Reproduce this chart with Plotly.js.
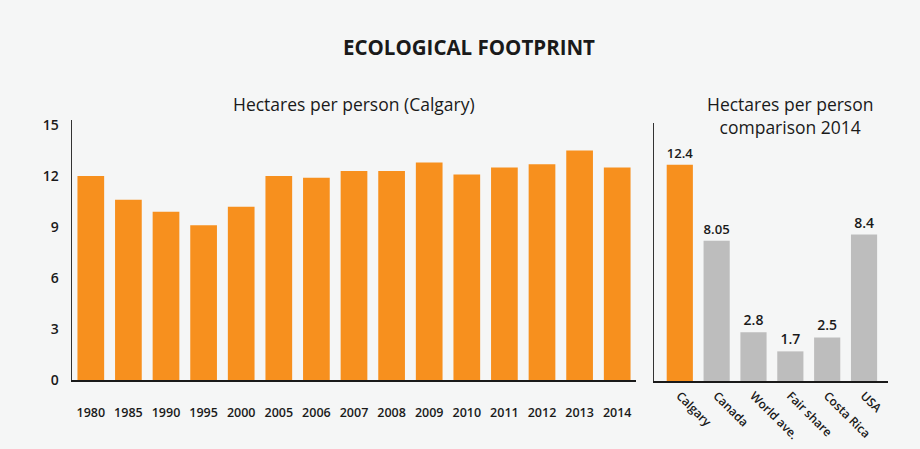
<!DOCTYPE html>
<html>
<head>
<meta charset="utf-8">
<script src="https://cdn.plot.ly/plotly-3.0.1.min.js"></script>
<style>html,body{margin:0;padding:0;background:#f5f6f6;}#chart{width:920px;height:449px;}</style>
</head>
<body>
<div id="chart"></div>
<script>
// Calgary ecological footprint (hectares per person)
const years = ["1980","1985","1990","1995","2000","2005","2006","2007","2008","2009","2010","2011","2012","2013","2014"];
const calgaryValues = [12.0, 10.6, 9.9, 9.1, 10.2, 12.0, 11.9, 12.3, 12.3, 12.8, 12.1, 12.5, 12.7, 13.5, 12.5];

// Comparison 2014
const places = ["Calgary","Canada","World ave.","Fair share","Costa Rica","USA"];
const placeValues = [12.4, 8.05, 2.8, 1.7, 2.5, 8.4];
const placeLabels = ["12.4","8.05","2.8","1.7","2.5","8.4"];
const leftTicks = [0, 3, 6, 9, 12, 15];

const ORANGE = "#f7901e";
const GREY = "#bdbdbd";
const FONT = "'Open Sans', Lato, sans-serif";

const W = 920, H = 449;
const px = v => v / W;
const py = v => (H - v) / H;

const data = [
  {
    type: "bar", x: years, y: calgaryValues, xaxis: "x", yaxis: "y",
    marker: {color: ORANGE}, hoverinfo: "x+y"
  },
  {
    type: "bar", x: places, y: placeValues, xaxis: "x2", yaxis: "y2",
    marker: {color: places.map((p, i) => i === 0 ? ORANGE : GREY)},
    text: placeLabels, textposition: "outside", cliponaxis: false,
    textfont: {family: FONT, size: 14, color: "#1a1a1a", weight: 600}
  }
];

const layout = {
  width: W, height: H,
  margin: {l: 0, r: 0, t: 0, b: 0},
  paper_bgcolor: "#f5f6f6", plot_bgcolor: "#f5f6f6",
  showlegend: false, bargap: 0.29,
  font: {family: FONT, color: "#1a1a1a"},
  xaxis: {
    domain: [px(72), px(636)], anchor: "y",
    type: "category", range: [-0.5, 14.5],
    showline: true, linecolor: "#1a1a1a", linewidth: 2,
    showgrid: false, zeroline: false, ticks: "",
    tickfont: {family: FONT, size: 12.5, color: "#1a1a1a", weight: 600},
    ticklabelstandoff: 20, fixedrange: true
  },
  yaxis: {
    domain: [py(380), py(120)], anchor: "x",
    range: [0, 15.3], tickvals: leftTicks,
    showline: true, linecolor: "#333", linewidth: 1.5,
    showgrid: false, zeroline: false, ticks: "",
    tickfont: {family: FONT, size: 14, color: "#1a1a1a", weight: 600},
    ticklabelstandoff: 9
  },
  xaxis2: {
    domain: [px(654), px(888)], anchor: "y2",
    type: "category", range: [-0.7, 5.65],
    showline: true, linecolor: "#1a1a1a", linewidth: 2,
    showgrid: false, zeroline: false, ticks: "",
    tickangle: 45,
    tickfont: {family: FONT, size: 12, color: "#1a1a1a", weight: 600},
    ticklabelstandoff: 1
  },
  yaxis2: {
    domain: [py(381), py(123)], anchor: "x2",
    range: [0, 14.8],
    showline: true, linecolor: "#333", linewidth: 1.5,
    showgrid: false, zeroline: false, ticks: "", showticklabels: false
  },
  annotations: [
    {text: "<b>ECOLOGICAL FOOTPRINT</b>", x: px(469), y: py(47), xref: "paper", yref: "paper",
     xanchor: "center", yanchor: "middle",
     showarrow: false, font: {family: FONT, size: 20.5, color: "#1a1a1a"}},
    {text: "Hectares per person (Calgary)", x: px(354), y: py(104), xref: "paper", yref: "paper",
     xanchor: "center", yanchor: "middle",
     showarrow: false, font: {family: FONT, size: 17.5, color: "#1a1a1a"}},
    {text: "Hectares per person<br>comparison 2014", x: px(790), y: py(116), xref: "paper", yref: "paper",
     xanchor: "center", yanchor: "middle",
     showarrow: false, font: {family: FONT, size: 17.5, color: "#1a1a1a"}}
  ]
};

Plotly.newPlot("chart", data, layout, {displayModeBar: false, staticPlot: true});
</script>
</body>
</html>
